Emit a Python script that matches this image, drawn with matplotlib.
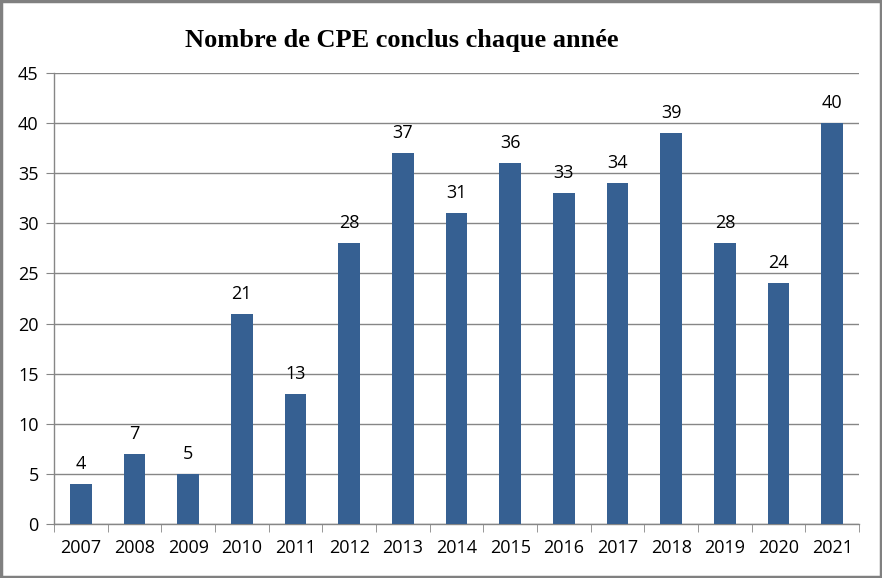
import matplotlib
matplotlib.use("Agg")
import matplotlib.pyplot as plt
from matplotlib.patches import Rectangle

years = ["2007", "2008", "2009", "2010", "2011", "2012", "2013", "2014",
         "2015", "2016", "2017", "2018", "2019", "2020", "2021"]
values = [4, 7, 5, 21, 13, 28, 37, 31, 36, 33, 34, 39, 28, 24, 40]
yticks = [0, 5, 10, 15, 20, 25, 30, 35, 40, 45]

fig = plt.figure(figsize=(8.82, 5.78), dpi=100)
ax = fig.add_axes([54/882, 1-524/578, (859-54)/882, (524-73)/578])

gray = "#868686"
fs = 13
x = list(range(len(years)))
ax.bar(x, values, width=0.4, color="#366092", zorder=3)
for xi, v in zip(x, values):
    ax.text(xi, v + 1.1, str(v), ha="center", va="bottom",
            fontsize=fs, family="Open Sans", color="#000000")

ax.set_xlim(-0.5, len(years) - 0.5)
ax.set_ylim(0, 45)
ax.set_yticks(yticks)
ax.set_yticklabels([str(t) for t in yticks], fontsize=fs, family="Open Sans")
ax.set_xticks(x)
ax.set_xticklabels(years, fontsize=fs, family="Open Sans")
ax.yaxis.grid(True, color=gray, linewidth=1, zorder=0)
ax.set_axisbelow(True)
for s in ["top", "right"]:
    ax.spines[s].set_visible(False)
for s in ["left", "bottom"]:
    ax.spines[s].set_color(gray)
    ax.spines[s].set_linewidth(1)
ax.tick_params(axis="y", length=6, color=gray, pad=5)
ax.set_xticks([i - 0.5 for i in range(len(years) + 1)], minor=True)
ax.tick_params(axis="x", which="major", length=0, pad=11)
ax.tick_params(axis="x", which="minor", length=6, color=gray)

fig.text(402/882, 1-40/578, "Nombre de CPE conclus chaque année",
         ha="center", va="center", fontsize=19, fontweight="bold",
         family="Liberation Serif")

fig.patches.append(Rectangle((0.0015, 0.0025), 0.997, 0.995, transform=fig.transFigure,
                             fill=False, edgecolor="#808080", linewidth=2.5))

fig.savefig("out.png", dpi=100)
